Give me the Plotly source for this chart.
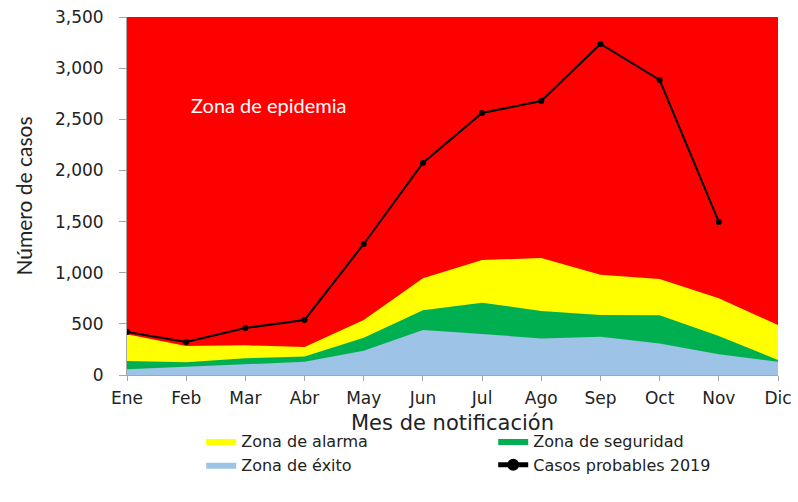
import plotly.graph_objects as go

# Canal endémico
meses = ["Ene", "Feb", "Mar", "Abr", "May", "Jun", "Jul", "Ago", "Sep", "Oct", "Nov", "Dic"]

# límites superiores acumulados de cada zona
zona_exito = [55, 78, 107, 130, 238, 440, 401, 358, 375, 309, 202, 130]
zona_seguridad = [137, 124, 163, 182, 365, 632, 707, 626, 587, 583, 381, 147]
zona_alarma = [398, 283, 290, 274, 538, 945, 1124, 1144, 980, 939, 750, 489]
zona_epidemia = [3500] * 12

casos_2019 = [420, 323, 459, 538, 1281, 2073, 2561, 2679, 3236, 2884, 1496]

COLORES = {
    "epidemia": "#FF0000",
    "alarma": "#FFFF00",
    "seguridad": "#00B050",
    "exito": "#9DC3E6",
}

x = list(range(len(meses)))

fig = go.Figure()

fig.add_trace(go.Scatter(
    x=x, y=zona_epidemia, mode="lines", fill="tozeroy",
    fillcolor=COLORES["epidemia"], line=dict(width=0, color=COLORES["epidemia"]),
    name="Zona de epidemia", showlegend=False, hoverinfo="skip"
))
fig.add_trace(go.Scatter(
    x=x, y=zona_alarma, mode="lines", fill="tozeroy",
    fillcolor=COLORES["alarma"], line=dict(width=0, color=COLORES["alarma"]),
    name="Zona de alarma", legendrank=1
))
fig.add_trace(go.Scatter(
    x=x, y=zona_seguridad, mode="lines", fill="tozeroy",
    fillcolor=COLORES["seguridad"], line=dict(width=0, color=COLORES["seguridad"]),
    name="Zona de seguridad", legendrank=2
))
fig.add_trace(go.Scatter(
    x=x, y=zona_exito, mode="lines", fill="tozeroy",
    fillcolor=COLORES["exito"], line=dict(width=0, color=COLORES["exito"]),
    name="Zona de éxito", legendrank=3
))
fig.add_trace(go.Scatter(
    x=x[:len(casos_2019)], y=casos_2019, mode="lines+markers",
    line=dict(color="black", width=2), marker=dict(color="black", size=6),
    name="Casos probables 2019", legendrank=4
))

fig.add_annotation(
    x=1.05, y=2640, xref="x", yref="y", text="Zona de epidemia",
    showarrow=False, xanchor="left", yanchor="middle",
    font=dict(family="Lato", size=20, color="white")
)

fig.update_xaxes(
    range=[0, 11], tickvals=x, ticktext=meses,
    showgrid=False, zeroline=False,
    showline=True, linecolor="#A6A6A6", linewidth=1,
    ticks="outside", ticklen=5, tickcolor="#A6A6A6", ticklabelstandoff=3,
    ticklabeloverflow="allow",
    tickfont=dict(family="DejaVu Sans", size=17, color="#222222"),
    title=dict(text="Mes de notificación", standoff=7,
               font=dict(family="DejaVu Sans", size=21, color="#222222"))
)
fig.update_yaxes(
    range=[0, 3500], tickvals=[0, 500, 1000, 1500, 2000, 2500, 3000, 3500],
    tickformat=",d", showgrid=False, zeroline=False,
    showline=True, linecolor="#A6A6A6", linewidth=1,
    ticks="outside", ticklen=7, tickcolor="#A6A6A6", ticklabelstandoff=12,
    ticklabeloverflow="allow",
    tickfont=dict(family="DejaVu Sans", size=17, color="#222222"),
    title=dict(text="Número de casos", standoff=16,
               font=dict(family="Lato", size=21, color="#222222"))
)

fig.update_layout(
    width=798, height=502,
    margin=dict(l=127, r=20, t=17, b=127, autoexpand=False),
    plot_bgcolor="white", paper_bgcolor="white",
    legend=dict(
        orientation="h", x=0.114, y=-0.137, xanchor="left", yanchor="top",
        entrywidth=247, entrywidthmode="pixels",
        font=dict(family="DejaVu Sans", size=16, color="#222222"),
        tracegroupgap=0, itemsizing="constant"
    ),
    showlegend=True,
)

# quitar el margen del cuerpo de la página para que la figura ocupe toda la ventana
fig.write_html(
    "out.html",
    config={"displayModeBar": False},
    post_script="document.body.style.margin='0';document.body.style.overflow='hidden';"
)
